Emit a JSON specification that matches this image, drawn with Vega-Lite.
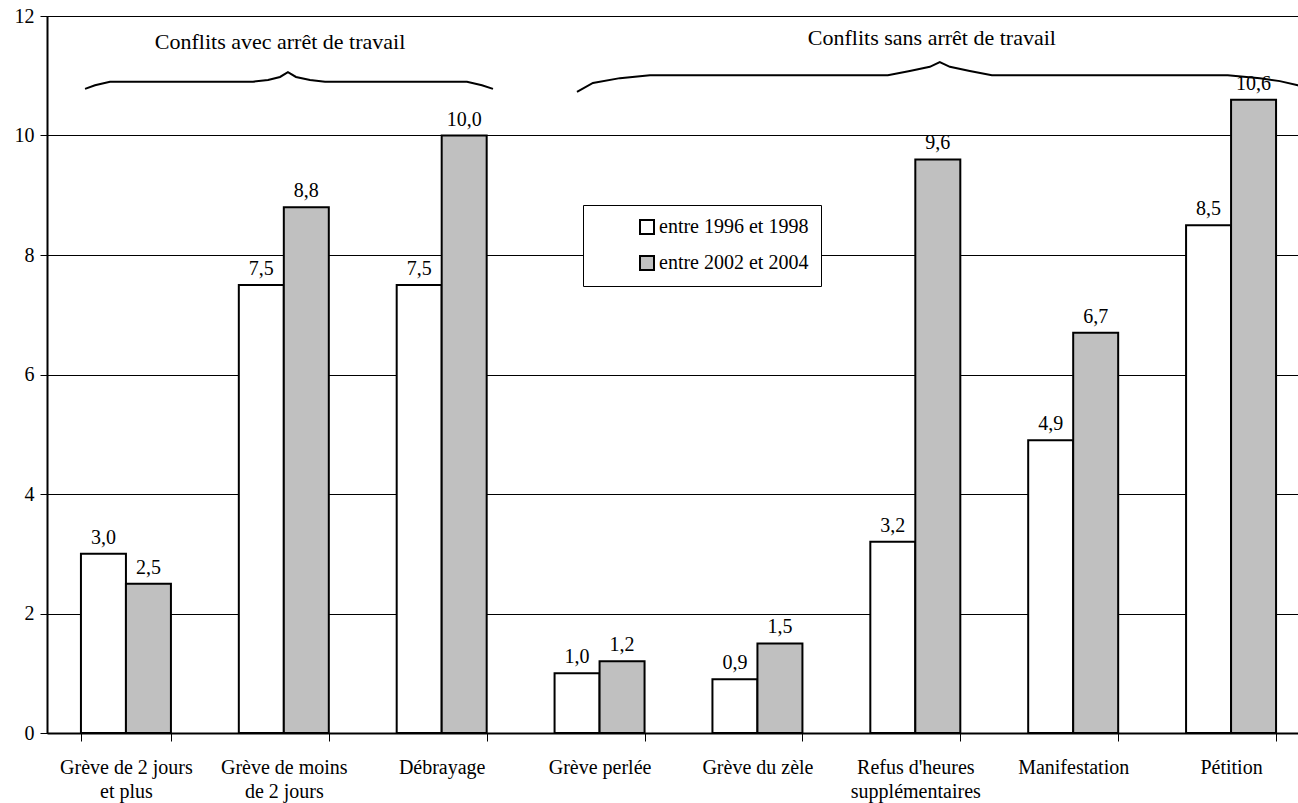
{
  "$schema": "https://vega.github.io/schema/vega-lite/v6.json",
  "width": 1263,
  "height": 717,
  "autosize": {"type": "none"},
  "padding": {"left": 47, "top": 16, "right": 0, "bottom": 70},
  "background": "white",
  "config": {
    "font": "Liberation Serif",
    "view": {"stroke": "black", "strokeWidth": 1},
    "locale": {"number": {"decimal": ",", "thousands": " ", "grouping": [3], "currency": ["", " €"]}},
    "axisY": {
      "title": null, "grid": true, "format": "d",
      "gridColor": "black", "gridWidth": 1, "gridOpacity": 1,
      "domainColor": "black", "domainWidth": 2, "tickColor": "black", "tickSize": 7,
      "labelFont": "Liberation Serif", "labelFontSize": 20, "labelColor": "black", "labelPadding": 6
    }
  },
  "layer": [
    {
      "data": {
        "values": [
          {"cat": "Grève de 2 jours et plus", "period": "entre 1996 et 1998", "v": 3.0},
          {"cat": "Grève de 2 jours et plus", "period": "entre 2002 et 2004", "v": 2.5},
          {"cat": "Grève de moins de 2 jours", "period": "entre 1996 et 1998", "v": 7.5},
          {"cat": "Grève de moins de 2 jours", "period": "entre 2002 et 2004", "v": 8.8},
          {"cat": "Débrayage", "period": "entre 1996 et 1998", "v": 7.5},
          {"cat": "Débrayage", "period": "entre 2002 et 2004", "v": 10.0},
          {"cat": "Grève perlée", "period": "entre 1996 et 1998", "v": 1.0},
          {"cat": "Grève perlée", "period": "entre 2002 et 2004", "v": 1.2},
          {"cat": "Grève du zèle", "period": "entre 1996 et 1998", "v": 0.9},
          {"cat": "Grève du zèle", "period": "entre 2002 et 2004", "v": 1.5},
          {"cat": "Refus d'heures supplémentaires", "period": "entre 1996 et 1998", "v": 3.2},
          {"cat": "Refus d'heures supplémentaires", "period": "entre 2002 et 2004", "v": 9.6},
          {"cat": "Manifestation", "period": "entre 1996 et 1998", "v": 4.9},
          {"cat": "Manifestation", "period": "entre 2002 et 2004", "v": 6.7},
          {"cat": "Pétition", "period": "entre 1996 et 1998", "v": 8.5},
          {"cat": "Pétition", "period": "entre 2002 et 2004", "v": 10.6}
        ]
      },
      "encoding": {
        "x": {
          "field": "cat", "type": "nominal", "sort": null,
          "scale": {"paddingInner": 0.43, "paddingOuter": 0.215},
          "axis": {
            "title": null, "labelAngle": 0, "domainColor": "black", "domainWidth": 2,
            "tickColor": "black", "tickWidth": 1, "tickSize": 8, "tickBand": "extent",
            "labelFont": "Liberation Serif", "labelFontSize": 20, "labelColor": "black",
            "labelPadding": 16, "labelLineHeight": 24, "labelLimit": 300,
            "labelExpr": "datum.value == 'Grève de 2 jours et plus' ? ['Grève de 2 jours', 'et plus'] : datum.value == 'Grève de moins de 2 jours' ? ['Grève de moins', 'de 2 jours'] : datum.value == \"Refus d'heures supplémentaires\" ? [\"Refus d'heures\", 'supplémentaires'] : datum.value"
          }
        },
        "xOffset": {"field": "period", "type": "nominal", "scale": {"paddingInner": 0, "paddingOuter": 0}},
        "y": {
          "field": "v", "type": "quantitative",
          "scale": {"domain": [0, 12], "nice": false},
          "axis": {"title": null, "values": [0, 2, 4, 6, 8, 10, 12]}
        }
      },
      "layer": [
        {
          "mark": {"type": "bar", "stroke": "black", "strokeWidth": 2},
          "encoding": {
            "fill": {
              "field": "period", "type": "nominal",
              "scale": {"domain": ["entre 1996 et 1998", "entre 2002 et 2004"], "range": ["white", "#c0c0c0"]},
              "legend": {
                "orient": "none", "legendX": 536, "legendY": 189, "title": null,
                "padding": 12, "strokeColor": "black", "fillColor": "white",
                "symbolType": "square", "symbolSize": 196, "symbolStrokeColor": "black", "symbolStrokeWidth": 2,
                "symbolOffset": 42, "labelOffset": 2,
                "labelFont": "Liberation Serif", "labelFontSize": 20, "labelColor": "black",
                "rowPadding": 14, "labelLimit": 300
              }
            }
          }
        },
        {
          "mark": {"type": "text", "baseline": "bottom", "dy": -6, "fontSize": 20, "font": "Liberation Serif", "color": "black"},
          "encoding": {"text": {"field": "v", "type": "quantitative", "format": ".1f"}}
        }
      ]
    },
    {
      "data": {
        "values": [
          {"g": "a", "u": 0.241, "b": 10.78},
          {"g": "a", "u": 0.304, "b": 10.84},
          {"g": "a", "u": 0.399, "b": 10.90},
          {"g": "a", "u": 1.305, "b": 10.90},
          {"g": "a", "u": 1.400, "b": 10.93},
          {"g": "a", "u": 1.476, "b": 10.98},
          {"g": "a", "u": 1.526, "b": 11.06},
          {"g": "a", "u": 1.577, "b": 10.98},
          {"g": "a", "u": 1.666, "b": 10.93},
          {"g": "a", "u": 1.761, "b": 10.90},
          {"g": "a", "u": 2.660, "b": 10.90},
          {"g": "a", "u": 2.755, "b": 10.84},
          {"g": "a", "u": 2.825, "b": 10.78},
          {"g": "b", "u": 3.357, "b": 10.73},
          {"g": "b", "u": 3.458, "b": 10.88},
          {"g": "b", "u": 3.629, "b": 10.96},
          {"g": "b", "u": 3.819, "b": 11.01},
          {"g": "b", "u": 5.326, "b": 11.01},
          {"g": "b", "u": 5.465, "b": 11.08},
          {"g": "b", "u": 5.592, "b": 11.15},
          {"g": "b", "u": 5.655, "b": 11.23},
          {"g": "b", "u": 5.719, "b": 11.15},
          {"g": "b", "u": 5.845, "b": 11.08},
          {"g": "b", "u": 5.985, "b": 11.01},
          {"g": "b", "u": 7.479, "b": 11.01},
          {"g": "b", "u": 7.682, "b": 10.96},
          {"g": "b", "u": 7.809, "b": 10.91},
          {"g": "b", "u": 7.923, "b": 10.84},
          {"g": "b", "u": 8.0, "b": 10.78}
        ]
      },
      "mark": {"type": "line", "color": "black", "strokeWidth": 2},
      "encoding": {
        "x": {"field": "u", "type": "quantitative", "scale": {"domain": [0, 8], "nice": false, "zero": false}, "axis": null},
        "y": {"field": "b", "type": "quantitative", "axis": {"title": null}},
        "detail": {"field": "g", "type": "nominal"},
        "order": {"field": "u", "type": "quantitative"}
      }
    },
    {
      "data": {
        "values": [
          {"t": "Conflits avec arrêt de travail", "u": 1.476, "b": 11.56},
          {"t": "Conflits sans arrêt de travail", "u": 5.605, "b": 11.63}
        ]
      },
      "mark": {"type": "text", "fontSize": 22, "font": "Liberation Serif", "color": "black", "align": "center", "baseline": "middle"},
      "encoding": {
        "x": {"field": "u", "type": "quantitative", "scale": {"domain": [0, 8], "nice": false, "zero": false}, "axis": null},
        "y": {"field": "b", "type": "quantitative", "axis": {"title": null}},
        "text": {"field": "t"}
      }
    }
  ],
  "resolve": {"scale": {"x": "independent"}}
}
